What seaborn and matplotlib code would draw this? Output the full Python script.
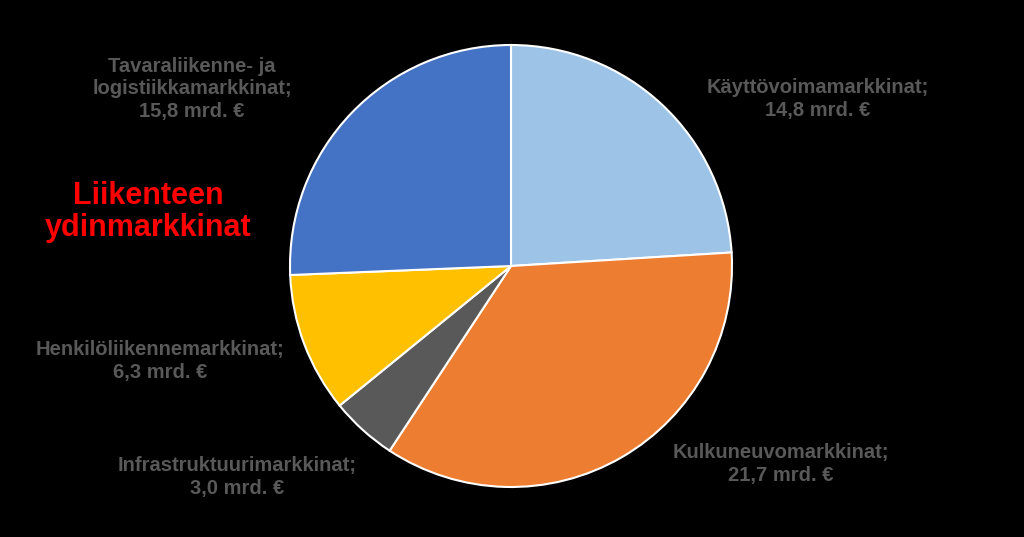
import matplotlib
matplotlib.use("Agg")
import matplotlib.pyplot as plt
import seaborn as sns

# market sizes, billion euros (clockwise from top)
labels = ["Käyttövoimamarkkinat", "Kulkuneuvomarkkinat", "Infrastruktuurimarkkinat",
          "Henkilöliikennemarkkinat", "Tavaraliikenne- ja\nlogistiikkamarkkinat"]
values = [14.8, 21.7, 3.0, 6.3, 15.8]
colors = ["#9DC3E6", "#ED7D31", "#595959", "#FFC000", "#4472C4"]

sns.set_style("dark")
plt.rcParams['font.family'] = ['Liberation Sans', 'DejaVu Sans']

H = 537
fig = plt.figure(figsize=(10.24, 5.37), dpi=100, facecolor="black")
ax = fig.add_axes([0, 0, 1, 1])
ax.set_facecolor("black")

ax.pie(values, colors=colors, startangle=90, counterclock=False,
       center=(511, H - 266), radius=221,
       wedgeprops=dict(edgecolor="white", linewidth=1.5))
ax.set_xlim(0, 1024)
ax.set_ylim(0, H)
ax.set_aspect("equal")
ax.axis("off")

# label positions in pixels (from top)
pos = [(818, 99), (781, 464), (237, 477), (160, 361), (192, 89)]
for lab, v, (x, y) in zip(labels, values, pos):
    txt = f"{lab};\n{v:.1f}".replace(".", ",") + " mrd. €"
    ax.text(x, H - y, txt, ha="center", va="center", color="#595959",
            fontsize=14.5, fontweight="bold", linespacing=1.22)

ax.text(148, H - 212, "Liikenteen\nydinmarkkinat", ha="center", va="center",
        color="#FF0000", fontsize=22, fontweight="bold", linespacing=1.08)

fig.savefig("out.png", dpi=100, facecolor="black")
